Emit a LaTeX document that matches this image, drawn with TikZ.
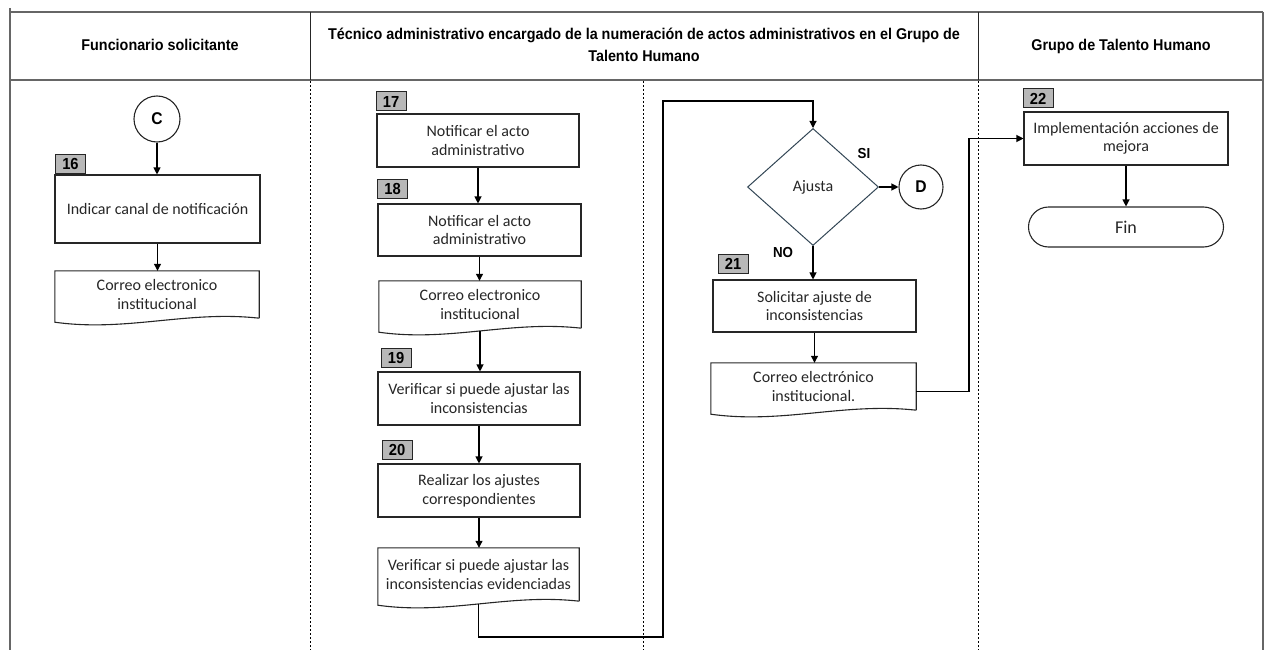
\documentclass[tikz,border=0pt]{standalone}
\usepackage{fontspec}
\setmainfont{Carlito}
\newfontfamily\hdr[FakeStretch=0.92]{Liberation Sans}
\usetikzlibrary{arrows.meta,shapes.geometric,calc}
\newcommand{\docoutline}[1]{%
  \draw[docline] ($(#1.south east)$) -- (#1.north east) -- (#1.north west) -- ($(#1.south west)+(0,4)$)
    .. controls ($(#1.south west)!0.35!(#1.south east)+(0,14)$) and ($(#1.south west)!0.65!(#1.south east)+(0,-8)$) .. (#1.south east);}
\begin{document}
\begin{tikzpicture}[x=1pt,y=-1pt,
  lane/.style={draw=black!60, line width=2pt},
  divline/.style={draw=black!85, line width=1pt},
  dotline/.style={draw=black, line width=1pt, dash pattern=on 2pt off 2pt},
  hdrtxt/.style={font=\hdr\bfseries\fontsize{15.6}{22.5}\selectfont, align=center, inner sep=0},
  proc/.style={draw=black!85, line width=1.1pt, rectangle, align=center, font=\fontsize{16}{18.5}\selectfont, text=black!85, inner sep=0},
  docbox/.style={rectangle, align=center, font=\fontsize{16}{18.5}\selectfont, text=black!85, inner sep=0},
  docline/.style={draw=black!85, line width=1.1pt},
  numbox/.style={draw=black!85, fill=black!28, line width=1pt, font=\hdr\bfseries\fontsize{16}{16}\selectfont, minimum width=30, minimum height=19, inner sep=0},
  conn/.style={draw=black!85, line width=1.1pt, circle, font=\hdr\bfseries\fontsize{17}{17}\selectfont, inner sep=0},
  arr/.style={-{Triangle[length=7pt,width=7pt]}, line width=1.1pt, draw=black},
  lbl/.style={font=\hdr\bfseries\fontsize{14.5}{14.5}\selectfont, inner sep=0}]
\path[use as bounding box] (0,0) rectangle (1265,650);
% header / lanes
\draw[lane] (10,12) -- (1263,12);
\draw[lane] (10,80) -- (1263,80);
\draw[lane] (10,8) -- (10,650);
\draw[lane] (1263,12) -- (1263,650);
\draw[divline] (310,12) -- (310,80);
\draw[divline] (978,12) -- (978,80);
\draw[dotline] (310,81) -- (310,650);
\draw[dotline] (643,81) -- (643,650);
\draw[dotline] (978,81) -- (978,650);
\node[hdrtxt] (h1) at (160,45) {Funcionario solicitante};
\node[hdrtxt] (h2) at (644,45) {Técnico administrativo encargado de la numeración de actos administrativos en el Grupo de\\Talento Humano};
\node[hdrtxt] (h3) at (1121,46) {Grupo de Talento Humano};
% lane 1
\node[conn, minimum size=46] (c) at (157,119) {C};
\node[numbox] (n16) at (70.5,164) {16};
\node[proc, minimum width=205, minimum height=68] (p16) at (157.5,209) {Indicar canal de notificación};
\node[docbox, minimum width=204, minimum height=47] (d16) at (157,294.5) {Correo electronico\\institucional};
\docoutline{d16}
\draw[arr] (c.south) -- (c.south |- p16.north);
\draw[arr] (p16.south) -- (p16.south |- d16.north);
% lane 2
\node[numbox] (n17) at (391,101.5) {17};
\node[proc, minimum width=202, minimum height=53] (p17) at (478,140.5) {Notificar el acto\\administrativo};
\node[numbox] (n18) at (392.5,189) {18};
\node[proc, minimum width=203, minimum height=52] (p18) at (479.5,230) {Notificar el acto\\administrativo};
\node[docbox, minimum width=202, minimum height=47] (d18) at (480,304.5) {Correo electronico\\institucional};
\docoutline{d18}
\node[numbox] (n19) at (396,357.5) {19};
\node[proc, minimum width=202, minimum height=53] (p19) at (479,398.5) {Verificar si puede ajustar las\\inconsistencias};
\node[numbox] (n20) at (397,450) {20};
\node[proc, minimum width=202, minimum height=53] (p20) at (479,490.5) {Realizar los ajustes\\correspondientes};
\node[docbox, minimum width=201, minimum height=53] (d20) at (478.5,574.5) {Verificar si puede ajustar las\\inconsistencias evidenciadas};
\docoutline{d20}
\draw[arr] (p17.south) -- (p17.south |- p18.north);
\draw[arr] (p18.south) -- (p18.south |- d18.north);
\draw[arr] ($(d18.south)+(0,3)$) -- (d18.south |- p19.north);
\draw[arr] (p19.south) -- (p19.south |- p20.north);
\draw[arr] (p20.south) -- (p20.south |- d20.north);
% decision
\node[draw={rgb,255:red,50;green,70;blue,85}, line width=1pt, diamond, minimum width=131, minimum height=117, inner sep=0, text=black!85, font=\fontsize{16}{18}\selectfont] (dia) at (813,187) {Ajusta};
\node[conn, minimum size=44] (dc) at (921,187) {D};
\node[lbl] (si) at (864,154) {SI};
\node[lbl] (no) at (783,253) {NO};
\node[numbox] (n21) at (733,264) {21};
\node[proc, minimum width=203, minimum height=52] (p21) at (814.5,306) {Solicitar ajuste de\\inconsistencias};
\node[docbox, minimum width=205, minimum height=47] (d21) at (813.5,386.5) {Correo electrónico\\institucional.};
\docoutline{d21}
\coordinate (w1) at (663,637);
\coordinate (w2) at (663,101);
\draw[arr] ($(d20.south)+(0,3)$) |- (w1) -- (w2) -| (dia.north);
\draw[arr] (dia.east) -- (dc.west);
\draw[arr] (dia.south) -- (dia.south |- p21.north);
\draw[arr] (p21.south) -- (p21.south |- d21.north);
% lane 3
\node[numbox] (n22) at (1038,98.5) {22};
\node[proc, minimum width=204, minimum height=53] (p22) at (1126,138.5) {Implementación acciones de\\mejora};
\node[draw=black!85, line width=1.1pt, rectangle, rounded corners=20pt, minimum width=195, minimum height=40, inner sep=0, text=black!85, font=\fontsize{18}{18}\selectfont] (fin) at (1126,227) {Fin};
\coordinate (w3) at (969,0);
\draw[arr] ($(d21.east)+(0,5)$) -| (w3 |- p22.west) -- (p22.west);
\draw[arr] (p22.south) -- (p22.south |- fin.north);
\end{tikzpicture}
\end{document}
